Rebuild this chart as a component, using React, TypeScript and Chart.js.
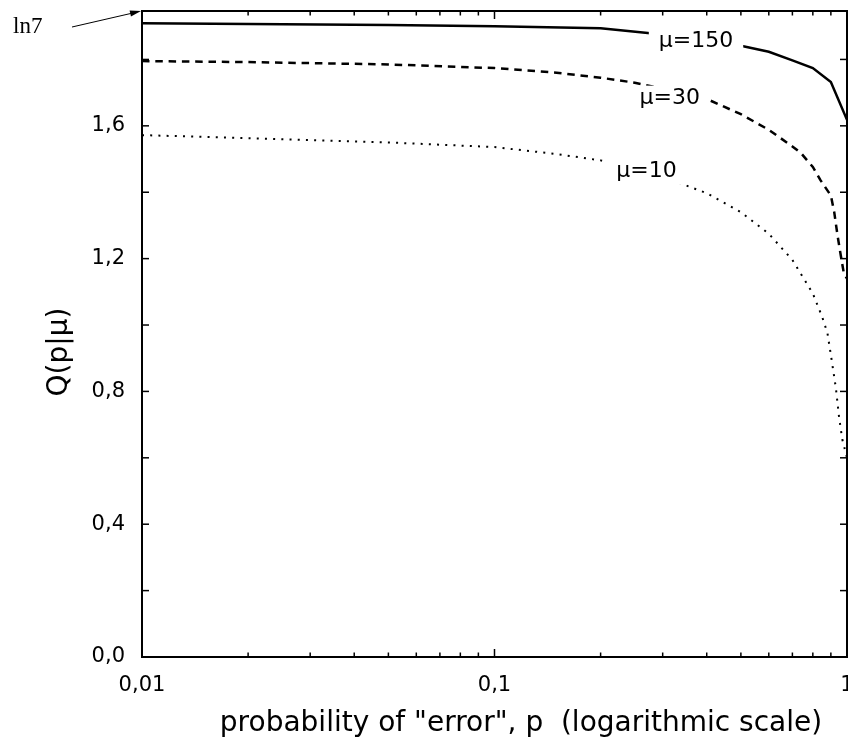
import React, { useEffect, useRef } from 'react';
import { Chart, registerables } from 'chart.js';

Chart.register(...registerables);

// ---- data ----
const P150 = [0.01, 0.02, 0.05, 0.1, 0.2, 0.3, 0.4, 0.5, 0.6, 0.7, 0.8, 0.9, 1.0];
const Q150 = [1.909, 1.907, 1.904, 1.9, 1.894, 1.875, 1.858, 1.841, 1.823, 1.797, 1.774, 1.732, 1.618];

const P30 = [0.01, 0.02, 0.05, 0.1, 0.15, 0.2, 0.25, 0.3, 0.4, 0.5, 0.6, 0.7, 0.74, 0.8, 0.84, 0.9, 0.92, 0.94, 0.96, 0.98, 1.0];
const Q30 = [1.795, 1.792, 1.785, 1.774, 1.76, 1.745, 1.73, 1.712, 1.681, 1.635, 1.588, 1.538, 1.518, 1.476, 1.437, 1.39, 1.34, 1.27, 1.21, 1.155, 1.14];

const P10 = [0.01, 0.02, 0.05, 0.1, 0.15, 0.2, 0.3, 0.4, 0.5, 0.6, 0.7, 0.8, 0.85, 0.88, 0.9, 0.93, 0.95, 0.97, 1.0];
const Q10 = [1.572, 1.563, 1.55, 1.536, 1.515, 1.496, 1.447, 1.397, 1.34, 1.275, 1.196, 1.095, 1.025, 0.976, 0.91, 0.81, 0.72, 0.655, 0.6];

const LABEL_TEXT = ['μ=150', 'μ=30', 'μ=10'];
const LABEL_P = [0.373, 0.314, 0.27];
const LABEL_Q = [1.854, 1.682, 1.462];

const X_TICKS = [0.01, 0.1, 1];
const X_TICK_LABELS = ['0,01', '0,1', '1'];
const X_DECADES = [0.01, 0.1];
const X_MULTIPLES = [1, 2, 3, 4, 5, 6, 7, 8, 9];
const Y_TICKS = [0, 0.4, 0.8, 1.2, 1.6];
const Y_MINOR = [0, 0.2, 0.4, 0.6, 0.8, 1.0, 1.2, 1.4, 1.6, 1.8];
const Y_MAX = Math.log(7);

const X_TITLE = 'probability of "error", p  (logarithmic scale)';
const Y_TITLE = 'Q(p|μ)';
const TOP_NOTE = 'ln7';

const SANS = '"DejaVu Sans", sans-serif';

const toPts = (ps: number[], qs: number[]) => ps.map((p, i) => ({ x: p, y: qs[i] }));

const decorations = {
  id: 'decorations',
  afterDraw(chart: any) {
    const ctx: CanvasRenderingContext2D = chart.ctx;
    const { left, right, top, bottom } = chart.chartArea;
    const xs = chart.scales.x;
    const ys = chart.scales.y;
    const seg = (x1: number, y1: number, x2: number, y2: number) => {
      ctx.beginPath();
      ctx.moveTo(x1, y1);
      ctx.lineTo(x2, y2);
      ctx.stroke();
    };
    ctx.save();

    // curve labels with white backgrounds
    ctx.font = `22px ${SANS}`;
    ctx.textAlign = 'center';
    ctx.textBaseline = 'middle';
    LABEL_TEXT.forEach((t, i) => {
      const cx = xs.getPixelForValue(LABEL_P[i]);
      const cy = ys.getPixelForValue(LABEL_Q[i]);
      const w = ctx.measureText(t).width;
      ctx.fillStyle = '#fff';
      ctx.fillRect(cx - w / 2 - 10, cy - 13, w + 20, 26);
      ctx.fillStyle = '#000';
      ctx.fillText(t, cx, cy);
    });

    // frame
    ctx.strokeStyle = '#000';
    ctx.lineWidth = 2;
    ctx.strokeRect(left, top, right - left, bottom - top);

    // y ticks (both sides, inward)
    ctx.lineWidth = 1.5;
    Y_MINOR.forEach((v) => {
      const y = ys.getPixelForValue(v);
      seg(left, y, left + 7, y);
      seg(right, y, right - 7, y);
    });

    // x ticks (log, top & bottom, inward)
    const xt: { v: number; major: boolean }[] = [];
    X_DECADES.forEach((d) => X_MULTIPLES.forEach((m) => xt.push({ v: d * m, major: m === 1 })));
    xt.push({ v: 1, major: true });
    xt.forEach(({ v, major }) => {
      const x = xs.getPixelForValue(v);
      const len = major ? 8 : 4.5;
      seg(x, bottom, x, bottom - len);
      seg(x, top, x, top + len);
    });

    // axis titles
    ctx.fillStyle = '#000';
    ctx.font = `28px ${SANS}`;
    ctx.textAlign = 'center';
    ctx.textBaseline = 'alphabetic';
    ctx.fillText(X_TITLE, 521, 731);

    ctx.save();
    ctx.translate(60, 352);
    ctx.rotate(-Math.PI / 2);
    ctx.textBaseline = 'middle';
    ctx.fillText(Y_TITLE, 0, 0);
    ctx.restore();

    // ln7 note with arrow to the top of the axis
    ctx.font = '23px "Liberation Serif", serif';
    ctx.textAlign = 'left';
    ctx.textBaseline = 'alphabetic';
    ctx.fillText(TOP_NOTE, 13, 33);

    const tipX = left - 1;
    const tipY = ys.getPixelForValue(Y_MAX);
    const sx = 72;
    const sy = 27;
    ctx.lineWidth = 1;
    seg(sx, sy, tipX - 6, tipY + 1.5);
    const ang = Math.atan2(tipY - sy, tipX - sx);
    ctx.beginPath();
    ctx.moveTo(tipX, tipY);
    ctx.lineTo(tipX - 11 * Math.cos(ang) + 3 * Math.sin(ang), tipY - 11 * Math.sin(ang) - 3 * Math.cos(ang));
    ctx.lineTo(tipX - 11 * Math.cos(ang) - 3 * Math.sin(ang), tipY - 11 * Math.sin(ang) + 3 * Math.cos(ang));
    ctx.closePath();
    ctx.fill();

    ctx.restore();
  },
};

export default function App() {
  const ref = useRef<HTMLCanvasElement | null>(null);

  useEffect(() => {
    if (!ref.current) return;
    const chart = new Chart(ref.current, {
      type: 'line',
      data: {
        datasets: [
          {
            label: 'μ=150',
            data: toPts(P150, Q150),
            borderColor: '#000',
            borderWidth: 2.5,
            pointRadius: 0,
            tension: 0,
            fill: false,
          },
          {
            label: 'μ=30',
            data: toPts(P30, Q30),
            borderColor: '#000',
            borderWidth: 2.5,
            borderDash: [7.5, 5.8],
            pointRadius: 0,
            tension: 0,
            fill: false,
          },
          {
            label: 'μ=10',
            data: toPts(P10, Q10),
            borderColor: '#000',
            borderWidth: 2,
            borderDash: [2, 6.2],
            pointRadius: 0,
            tension: 0,
            fill: false,
          },
        ],
      },
      options: {
        animation: false,
        responsive: false,
        parsing: false as any,
        layout: { padding: { top: 11, right: 1, left: 0, bottom: 0 } },
        plugins: { legend: { display: false }, tooltip: { enabled: false }, title: { display: false } },
        scales: {
          x: {
            type: 'logarithmic',
            min: 0.01,
            max: 1,
            grid: { display: false, drawTicks: false },
            border: { display: false },
            ticks: {
              color: '#000',
              font: { family: 'DejaVu Sans', size: 21 },
              padding: 16,
              maxRotation: 0,
              autoSkip: false,
              callback: (v: any) => {
                const i = X_TICKS.findIndex((t) => Math.abs(t - Number(v)) < 1e-9);
                return i >= 0 ? X_TICK_LABELS[i] : '';
              },
            },
            afterBuildTicks: (s: any) => {
              s.ticks = X_TICKS.map((v) => ({ value: v }));
            },
            afterFit: (s: any) => {
              s.height = 85;
              s.paddingLeft = 0;
              s.paddingRight = 0;
            },
          },
          y: {
            type: 'linear',
            min: 0,
            max: Y_MAX,
            grid: { display: false, drawTicks: false },
            border: { display: false },
            ticks: {
              color: '#000',
              font: { family: 'DejaVu Sans', size: 21 },
              padding: 17,
              autoSkip: false,
              callback: (v: any) => Number(v).toFixed(1).replace('.', ','),
            },
            afterBuildTicks: (s: any) => {
              s.ticks = Y_TICKS.map((v) => ({ value: v }));
            },
            afterFit: (s: any) => {
              s.width = 142;
              s.paddingTop = 0;
              s.paddingBottom = 0;
            },
          },
        },
      },
      plugins: [decorations],
    });
    return () => chart.destroy();
  }, []);

  return (
    <div style={{ position: 'absolute', left: 0, top: 0, width: 848, height: 742, background: '#fff' }}>
      <canvas ref={ref} width={848} height={742} style={{ display: 'block' }} />
    </div>
  );
}
